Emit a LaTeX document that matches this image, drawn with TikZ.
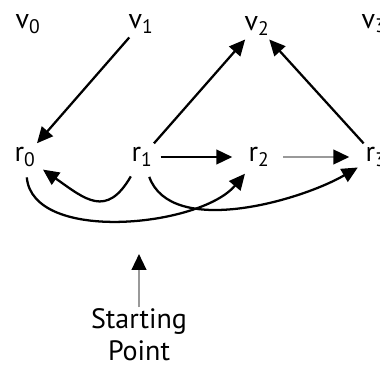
\documentclass[tikz,border=0pt]{standalone}
\usepackage{fontspec}
\setmainfont{PT Sans}
\usetikzlibrary{arrows.meta}

\begin{document}
\begin{tikzpicture}[x=0.75pt,y=0.75pt,
  vert/.style={inner sep=3pt, font=\fontsize{21}{24}\selectfont},
  lab/.style={align=center, inner sep=1pt, font=\fontsize{21}{24}\selectfont},
  arr/.style={-{Triangle[length=12pt,width=11pt]}, line width=1.7pt, black},
  garr/.style={-{Triangle[length=12pt,width=11pt,black]}, line width=1.7pt, draw=black!40},
  curvarr/.style={arr, shorten <=5pt, shorten >=3pt}
]
\useasboundingbox (0,0) rectangle (380,369);
\node[vert] (v0) at (28,345) {v\textsubscript{0}};
\node[vert] (v1) at (141,345) {v\textsubscript{1}};
\node[vert] (v2) at (257,343) {v\textsubscript{2}};
\node[vert] (v3) at (374,345) {v\textsubscript{3}};
\node[vert] (r0) at (25,212) {r\textsubscript{0}};
\node[vert] (r1) at (142,212) {r\textsubscript{1}};
\node[vert] (r2) at (259,212) {r\textsubscript{2}};
\node[vert] (r3) at (376,212) {r\textsubscript{3}};
\node[lab] (start) at (139,34) {Starting\\Point};
\coordinate (sp) at (139,115);
% edges between rows
\draw[arr] (v1) -- (r0);
\draw[arr] (r1) -- (v2);
\draw[arr] (r3) -- (v2);
\draw[arr, shorten <=3pt, shorten >=9pt] (r1) -- (r2);
\draw[garr, shorten <=7pt, shorten >=9pt] (r2) -- (r3);
% curved edges below
\draw[curvarr] (r1) to[out=-120, in=-35, looseness=1.5] (r0);
\draw[curvarr] (r0) to[out=-85, in=-130, looseness=0.85] (r2);
\draw[curvarr] (r1) to[out=-70, in=-150, looseness=0.85] (r3);
\draw[garr] (start) -- (sp);
\end{tikzpicture}
\end{document}
